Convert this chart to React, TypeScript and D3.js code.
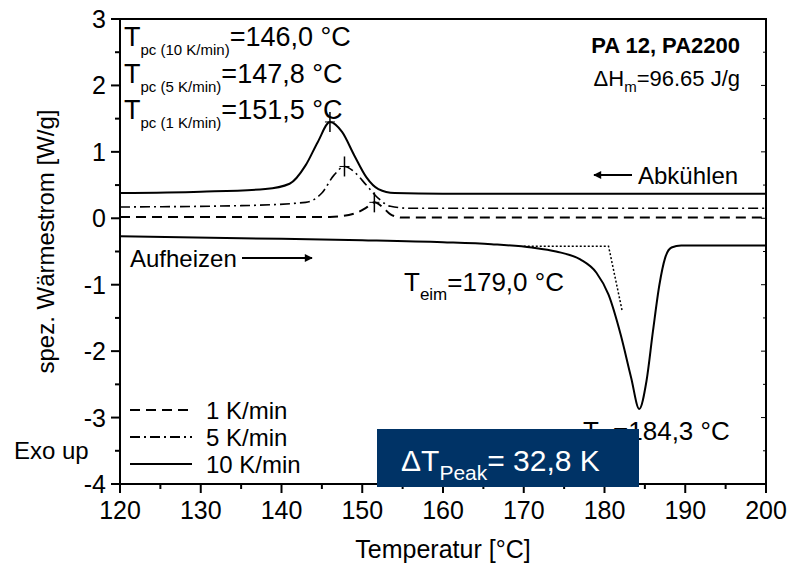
import * as d3 from "d3";
import { useEffect, useRef } from "react";

// cooling curves (Abkühlen), [temperature °C, W/g]
const cool10: [number, number][] = [
  [120, 0.38], [130, 0.4], [138, 0.44], [141, 0.52], [143, 0.8], [144.5, 1.15], [146, 1.45],
  [147.5, 1.3], [149, 0.95], [150.5, 0.62], [152, 0.44], [154, 0.38], [160, 0.37], [200, 0.37],
];
const cool5: [number, number][] = [
  [120, 0.17], [135, 0.19], [143, 0.24], [145, 0.38], [146.5, 0.65], [147.8, 0.78],
  [149, 0.7], [150.5, 0.5], [152, 0.3], [153.5, 0.18], [156, 0.15], [200, 0.15],
];
const cool1: [number, number][] = [
  [120, 0.02], [146, 0.02], [149, 0.07], [150.5, 0.16], [151.5, 0.24],
  [152.5, 0.17], [153.5, 0.06], [155, 0.01], [200, 0.01],
];
// heating curve (Aufheizen)
const heat: [number, number][] = [
  [120, -0.27], [135, -0.3], [150, -0.33], [160, -0.36], [166, -0.39], [171, -0.44], [174, -0.5],
  [177, -0.62], [179, -0.82], [180.5, -1.15], [182, -1.75], [183.3, -2.4], [184.3, -2.87],
  [185.2, -2.45], [186, -1.7], [186.8, -1], [187.5, -0.6], [188.3, -0.44], [189.5, -0.41], [200, -0.41],
];
const onsetLine: [number, number][] = [[170, -0.42], [180.5, -0.42], [182.2, -1.4]];

const xTicks = [120, 130, 140, 150, 160, 170, 180, 190, 200];
const yTicks = [3, 2, 1, 0, -1, -2, -3, -4];
const legendItems = [
  { label: "1 K/min", dash: "10,6" },
  { label: "5 K/min", dash: "10,4,2,4" },
  { label: "10 K/min", dash: "" },
];

export default function App() {
  const ref = useRef<SVGSVGElement>(null);
  const W = 790, H = 567;
  useEffect(() => {
    const svg = d3.select(ref.current!);
    svg.selectAll("*").remove();
    const m = { l: 120, r: 766, t: 19, b: 484 };
    const x = d3.scaleLinear().domain([120, 200]).range([m.l, m.r]);
    const y = d3.scaleLinear().domain([-4, 3]).range([m.b, m.t]);
    const font = "Arial, 'Liberation Sans', sans-serif";
    const line = d3.line<[number, number]>().x((d) => x(d[0])).y((d) => y(d[1])).curve(d3.curveMonotoneX);

    const g = svg.append("g");
    // frame
    g.append("rect").attr("x", m.l).attr("y", m.t).attr("width", m.r - m.l).attr("height", m.b - m.t)
      .attr("fill", "none").attr("stroke", "#000").attr("stroke-width", 2);

    // x ticks
    d3.range(120, 201, 5).forEach((v) => {
      const major = v % 10 === 0;
      g.append("line").attr("x1", x(v)).attr("x2", x(v)).attr("y1", m.b).attr("y2", m.b + (major ? 9 : 5))
        .attr("stroke", "#000").attr("stroke-width", 2);
    });
    xTicks.forEach((v) => {
      g.append("text").attr("x", x(v)).attr("y", m.b + 35).attr("text-anchor", "middle")
        .style("font-family", font).style("font-size", "25px").text(v);
    });
    // y ticks
    d3.range(-4, 3.01, 0.5).forEach((v) => {
      const major = Number.isInteger(v);
      g.append("line").attr("x1", m.l - (major ? 9 : 5)).attr("x2", m.l).attr("y1", y(v)).attr("y2", y(v))
        .attr("stroke", "#000").attr("stroke-width", 2);
      g.append("line").attr("x1", m.r - (major ? 5 : 3)).attr("x2", m.r).attr("y1", y(v)).attr("y2", y(v))
        .attr("stroke", "#000").attr("stroke-width", 1);
    });
    yTicks.forEach((v) => {
      g.append("text").attr("x", m.l - 14).attr("y", y(v) + 9).attr("text-anchor", "end")
        .style("font-family", font).style("font-size", "25px").text(v);
    });
    g.append("text").attr("transform", `translate(54,${(m.t + m.b) / 2 - 10}) rotate(-90)`).attr("text-anchor", "middle")
      .style("font-family", font).style("font-size", "24px").text("spez. Wärmestrom [W/g]");
    g.append("text").attr("x", (m.l + m.r) / 2).attr("y", 558).attr("text-anchor", "middle")
      .style("font-family", font).style("font-size", "25px").text("Temperatur [°C]");

    // curves
    const curve = (d: [number, number][], dash: string, w = 2) =>
      g.append("path").attr("d", line(d)!).attr("fill", "none").attr("stroke", "#000")
        .attr("stroke-width", w).attr("stroke-dasharray", dash);
    curve(cool1, "10,6");
    curve(cool5, "10,4,2,4", 1.6);
    curve(cool10, "");
    curve(heat, "");
    g.append("path").attr("d", d3.line<[number, number]>().x((d) => x(d[0])).y((d) => y(d[1]))(onsetLine)!)
      .attr("fill", "none").attr("stroke", "#000").attr("stroke-width", 1.5).attr("stroke-dasharray", "2,2");

    // peak markers
    [[146, 1.45], [147.8, 0.78], [151.5, 0.24]].forEach(([t, v]) => {
      g.append("line").attr("x1", x(t)).attr("x2", x(t)).attr("y1", y(v) - 10).attr("y2", y(v) + 10)
        .attr("stroke", "#000").attr("stroke-width", 1.5);
      g.append("line").attr("x1", x(t) - 5).attr("x2", x(t) + 5).attr("y1", y(v)).attr("y2", y(v))
        .attr("stroke", "#000").attr("stroke-width", 1);
    });

    const sub = (tx: number, ty: number, main: string, s: string, rest: string, size = 27, subSize = 15, fill = "#000") => {
      const t = g.append("text").attr("x", tx).attr("y", ty).style("font-family", font)
        .style("font-size", `${size}px`).attr("fill", fill);
      t.append("tspan").text(main);
      t.append("tspan").attr("dy", 9).style("font-size", `${subSize}px`).text(s);
      t.append("tspan").attr("dy", -9).text(rest);
    };
    sub(124, 46, "T", "pc (10 K/min)", "=146,0 °C");
    sub(124, 83, "T", "pc (5 K/min)", "=147,8 °C");
    sub(124, 119, "T", "pc (1 K/min)", "=151,5 °C");
    sub(404, 291, "T", "eim", "=179,0 °C", 26, 17);
    sub(583, 440, "T", "m", "=184,3 °C", 26, 17);

    g.append("text").attr("x", 740).attr("y", 53).attr("text-anchor", "end").style("font-family", font)
      .style("font-size", "22px").style("font-weight", "bold").text("PA 12, PA2200");
    const dh = g.append("text").attr("x", 740).attr("y", 86).attr("text-anchor", "end").style("font-family", font)
      .style("font-size", "22px");
    dh.append("tspan").text("ΔH");
    dh.append("tspan").attr("dy", 6).style("font-size", "15px").text("m");
    dh.append("tspan").attr("dy", -6).text("=96.65 J/g");

    // arrows
    svg.append("defs").append("marker").attr("id", "ah").attr("viewBox", "0 0 10 10").attr("refX", 9).attr("refY", 5)
      .attr("markerWidth", 6).attr("markerHeight", 4).attr("orient", "auto-start-reverse")
      .append("path").attr("d", "M0,0L10,5L0,10z");
    g.append("line").attr("x1", 632).attr("x2", 594).attr("y1", 175).attr("y2", 175).attr("stroke", "#000")
      .attr("stroke-width", 2).attr("marker-end", "url(#ah)");
    g.append("text").attr("x", 638).attr("y", 184).style("font-family", font).style("font-size", "24px").text("Abkühlen");
    g.append("text").attr("x", 130).attr("y", 267).style("font-family", font).style("font-size", "24px").text("Aufheizen");
    g.append("line").attr("x1", 242).attr("x2", 312).attr("y1", 258).attr("y2", 258).attr("stroke", "#000")
      .attr("stroke-width", 2).attr("marker-end", "url(#ah)");

    // legend
    legendItems.forEach((it, i) => {
      const ly = 410 + i * 27;
      g.append("line").attr("x1", 130).attr("x2", 192).attr("y1", ly).attr("y2", ly).attr("stroke", "#000")
        .attr("stroke-width", 2).attr("stroke-dasharray", it.dash);
      g.append("text").attr("x", 206).attr("y", ly + 9).style("font-family", font).style("font-size", "24px").text(it.label);
    });
    g.append("text").attr("x", 14).attr("y", 459).style("font-family", font).style("font-size", "24px").text("Exo up");

    // highlight box
    g.append("rect").attr("x", 377).attr("y", 429).attr("width", 262).attr("height", 58).attr("fill", "#003366");
    sub(401, 471, "ΔT", "Peak", "= 32,8 K", 30, 21, "#fff");
  }, []);
  return <svg ref={ref} width={W} height={H} style={{ position: "absolute", left: 0, top: 0, background: "#fff" }} />;
}
